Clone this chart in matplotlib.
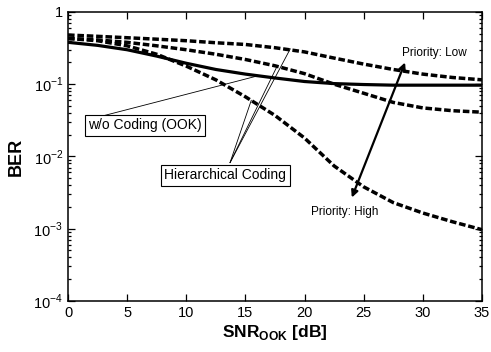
import matplotlib
matplotlib.use("Agg")
import matplotlib.pyplot as plt
from matplotlib.ticker import FixedLocator, LogLocator, NullFormatter

plt.rcParams['font.family'] = ['Liberation Sans', 'DejaVu Sans']
plt.rcParams['mathtext.fontset'] = 'custom'
plt.rcParams['mathtext.rm'] = 'Liberation Sans'
plt.rcParams['mathtext.bf'] = 'Liberation Sans:bold'

# SNR_OOK [dB]
snr = [0, 2.5, 5, 7.5, 10, 12.5, 15, 17.5, 20, 22.5, 25, 27.5, 30, 32.5, 35]

# BER without coding (OOK)
ber_ook = [0.38, 0.345, 0.30, 0.245, 0.195, 0.16, 0.138, 0.122, 0.109, 0.102,
           0.099, 0.097, 0.097, 0.097, 0.097]

# hierarchical coding, three priority levels
ber_low = [0.48, 0.46, 0.44, 0.42, 0.40, 0.375, 0.355, 0.32, 0.28, 0.23,
           0.19, 0.16, 0.138, 0.124, 0.115]
ber_mid = [0.43, 0.41, 0.38, 0.34, 0.30, 0.26, 0.22, 0.18, 0.14, 0.10,
           0.075, 0.056, 0.047, 0.043, 0.041]
ber_high = [0.43, 0.40, 0.34, 0.26, 0.178, 0.115, 0.067, 0.037, 0.018, 0.0074,
            0.0038, 0.0023, 0.00165, 0.00125, 0.00097]

ytick_vals = [1e-4, 1e-3, 1e-2, 1e-1, 1]
ytick_labels = ['$10^{-4}$', '$10^{-3}$', '$10^{-2}$', '$10^{-1}$', '1']
xtick_vals = [0, 5, 10, 15, 20, 25, 30, 35]

fig = plt.figure(figsize=(4.91, 3.52), dpi=100)
ax = fig.add_axes([0.1385, 0.145, 0.843, 0.821])

dash = (0, (1.9, 0.8))
ax.plot(snr, ber_ook, color='black', lw=2.3, solid_capstyle='butt')
ax.plot(snr, ber_low, color='black', lw=2.5, linestyle=dash)
ax.plot(snr, ber_mid, color='black', lw=2.5, linestyle=dash)
ax.plot(snr, ber_high, color='black', lw=2.5, linestyle=dash)

ax.set_yscale('log')
ax.set_xlim(0, 35)
ax.set_ylim(1e-4, 1)
ax.xaxis.set_major_locator(FixedLocator(xtick_vals))
ax.set_yticks(ytick_vals)
ax.set_yticklabels(ytick_labels)
ax.yaxis.set_minor_locator(LogLocator(base=10, subs=range(2, 10), numticks=20))
ax.yaxis.set_minor_formatter(NullFormatter())
ax.tick_params(which='both', direction='in', top=True, right=True,
               labelsize=10.5, width=0.9)
ax.tick_params(which='major', length=5)
ax.tick_params(which='minor', length=2.5)
for s in ax.spines.values():
    s.set_linewidth(1.1)

ax.set_xlabel(r'SNR$_{\mathbf{OOK}}$ [dB]', fontsize=12.5, fontweight='bold',
              labelpad=2)
ax.set_ylabel('BER', fontsize=13, fontweight='bold', labelpad=6)

box = dict(boxstyle='square,pad=0.25', fc='white', ec='black', lw=0.8)
line_kw = dict(arrowstyle='-', color='black', lw=0.6, shrinkA=0, shrinkB=0)

ax.annotate('', xy=(16.0, 0.13), xytext=(3.1, 0.037), arrowprops=line_kw)
ax.text(6.5, 0.027, 'w/o Coding (OOK)', fontsize=10, ha='center',
        va='center', bbox=box)

for pt in [(15.5, 0.06), (17.7, 0.18), (18.8, 0.31)]:
    ax.annotate('', xy=pt, xytext=(13.7, 0.0082), arrowprops=line_kw)
ax.text(13.3, 0.0055, 'Hierarchical Coding', fontsize=10, ha='center',
        va='center', bbox=box)

ax.annotate('', xy=(28.5, 0.20), xytext=(24.0, 0.0027),
            arrowprops=dict(arrowstyle='<|-|>', color='black', lw=1.6,
                            mutation_scale=10, shrinkA=0, shrinkB=0))
ax.text(31.0, 0.27, 'Priority: Low', fontsize=8.5, ha='center', va='center')
ax.text(23.4, 0.0017, 'Priority: High', fontsize=8.5, ha='center',
        va='center')

fig.savefig('out.png', dpi=100)
